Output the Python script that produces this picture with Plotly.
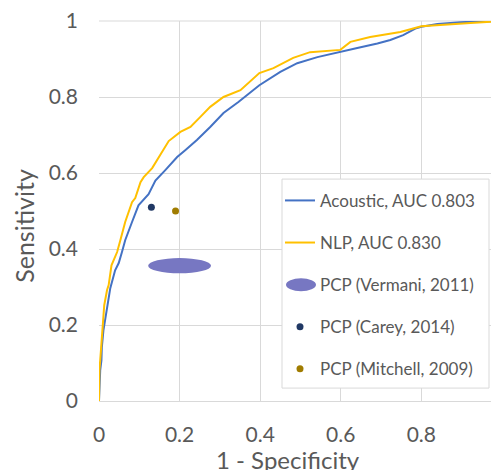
import plotly.graph_objects as go

# ---- data ----
nlp_fpr = [0.0, 0.0, 0.001, 0.003, 0.006, 0.009, 0.013, 0.020, 0.024, 0.031, 0.045, 0.053,
           0.065, 0.082, 0.090, 0.103, 0.111, 0.132, 0.148, 0.173, 0.202, 0.227, 0.251,
           0.276, 0.309, 0.351, 0.398, 0.433, 0.482, 0.524, 0.599, 0.624, 0.673, 0.748,
           0.800, 0.847, 0.922, 1.0]
nlp_tpr = [0.0, 0.041, 0.081, 0.107, 0.160, 0.199, 0.252, 0.292, 0.305, 0.357, 0.392, 0.423,
           0.471, 0.523, 0.534, 0.576, 0.589, 0.613, 0.642, 0.684, 0.708, 0.721, 0.747,
           0.774, 0.800, 0.818, 0.863, 0.876, 0.903, 0.918, 0.924, 0.945, 0.958, 0.971,
           0.986, 0.990, 0.995, 1.0]

ac_fpr = [0.0, 0.001, 0.003, 0.006, 0.007, 0.011, 0.016, 0.024, 0.028, 0.040, 0.049, 0.057,
          0.065, 0.082, 0.098, 0.123, 0.140, 0.164, 0.194, 0.214, 0.243, 0.276, 0.309,
          0.346, 0.398, 0.450, 0.492, 0.542, 0.599, 0.641, 0.691, 0.723, 0.755, 0.785,
          0.800, 0.840, 0.897, 0.959, 1.0]
ac_tpr = [0.0, 0.041, 0.081, 0.107, 0.141, 0.186, 0.220, 0.273, 0.297, 0.344, 0.363, 0.392,
          0.423, 0.471, 0.515, 0.544, 0.580, 0.607, 0.642, 0.660, 0.687, 0.721, 0.758,
          0.787, 0.831, 0.866, 0.889, 0.905, 0.918, 0.929, 0.941, 0.950, 0.963, 0.980,
          0.985, 0.992, 0.997, 1.0, 1.0]

vermani_center = [0.2, 0.356]      # (1 - specificity, sensitivity)
vermani_halfrange = [0.078, 0.02]  # half-widths of the ellipse
carey_point = [0.13, 0.51]
mitchell_point = [0.19, 0.50]

series_names = ["Acoustic, AUC 0.803", "NLP, AUC 0.830", "PCP (Vermani, 2011)",
                "PCP (Carey, 2014)", "PCP (Mitchell, 2009)"]
tick_vals = [0, 0.2, 0.4, 0.6, 0.8, 1]
tick_text = ["0", "0.2", "0.4", "0.6", "0.8", "1"]

# ---- styles ----
BLUE = "#4472C4"
GOLD = "#FFC000"
ELLIPSE = "#7777C2"
NAVY = "#203864"
OLIVE = "#A07C00"
GRID = "#D9D9D9"
TXT = "#595959"
FONT = "Lato"

fig = go.Figure()
fig.add_trace(go.Scatter(x=ac_fpr, y=ac_tpr, mode="lines", name=series_names[0],
                         line=dict(color=BLUE, width=2), legendgroup="a"))
fig.add_trace(go.Scatter(x=nlp_fpr, y=nlp_tpr, mode="lines", name=series_names[1],
                         line=dict(color=GOLD, width=2), legendgroup="b"))
fig.add_trace(go.Scatter(x=[vermani_center[0]], y=[vermani_center[1]], mode="markers",
                         name=series_names[2], legendgroup="c",
                         marker=dict(size=1, color="rgba(0,0,0,0)")))
fig.add_trace(go.Scatter(x=[carey_point[0]], y=[carey_point[1]], mode="markers",
                         name=series_names[3], legendgroup="d",
                         marker=dict(size=7, color=NAVY)))
fig.add_trace(go.Scatter(x=[mitchell_point[0]], y=[mitchell_point[1]], mode="markers",
                         name=series_names[4], legendgroup="e",
                         marker=dict(size=7, color=OLIVE)))

# top border of plot area (gridline at y = 1)
fig.add_shape(type="line", xref="paper", yref="paper", x0=0, x1=1, y0=1, y1=1,
              line=dict(color=GRID, width=1), layer="below")

# Vermani ellipse in the plot
fig.add_shape(type="circle", xref="x", yref="y",
              x0=vermani_center[0] - vermani_halfrange[0], x1=vermani_center[0] + vermani_halfrange[0],
              y0=vermani_center[1] - vermani_halfrange[1], y1=vermani_center[1] + vermani_halfrange[1],
              fillcolor=ELLIPSE, line=dict(width=0), layer="above")

# legend box background and ellipse icon
fig.add_shape(type="rect", xref="paper", yref="paper", x0=0.4575, x1=0.975, y0=0.034, y1=0.584,
              fillcolor="white", line=dict(color=GRID, width=1), layer="above")
fig.add_shape(type="circle", xref="paper", yref="paper", x0=0.4675, x1=0.5425, y0=0.289, y1=0.323,
              fillcolor=ELLIPSE, line=dict(width=0), layer="above")

fig.update_layout(
    width=491, height=462,
    margin=dict(l=91, r=0, t=13, b=69),
    paper_bgcolor="white", plot_bgcolor="white",
    font=dict(family=FONT, color=TXT),
    showlegend=True,
    legend=dict(x=0.4525, y=0.574, xanchor="left", yanchor="top",
                bgcolor="rgba(0,0,0,0)", borderwidth=0,
                font=dict(family=FONT, size=17, color=TXT),
                tracegroupgap=17, itemwidth=30),
    xaxis=dict(range=[0, 0.9928], tickvals=tick_vals, ticktext=tick_text,
               showgrid=True, gridcolor=GRID, gridwidth=1, zeroline=False,
               showline=True, linecolor=GRID, linewidth=1, ticks="",
               ticklabeloverflow="allow", automargin=False,
               tickfont=dict(family=FONT, size=21, color=TXT), ticklabelstandoff=15),
    yaxis=dict(range=[0, 1], tickvals=tick_vals, ticktext=tick_text,
               showgrid=True, gridcolor=GRID, gridwidth=1, zeroline=False,
               showline=False, ticks="",
               ticklabeloverflow="allow", automargin=False,
               tickfont=dict(family=FONT, size=21, color=TXT), ticklabelstandoff=20),
    annotations=[
        dict(text="Sensitivity", xref="paper", yref="paper", x=-0.188, y=0.4605,
             textangle=-90, showarrow=False, xanchor="center", yanchor="middle",
             font=dict(family=FONT, size=25, color=TXT)),
        dict(text="1 - Specificity", xref="paper", yref="paper", x=0.4713, y=-0.1530,
             showarrow=False, xanchor="center", yanchor="middle",
             font=dict(family=FONT, size=24, color=TXT)),
        dict(text=tick_text[-1], xref="paper", yref="paper", x=1.0075, y=-0.0790,
             showarrow=False, xanchor="center", yanchor="middle",
             font=dict(family=FONT, size=21, color=TXT)),
    ],
)

fig.write_html("out.html")
